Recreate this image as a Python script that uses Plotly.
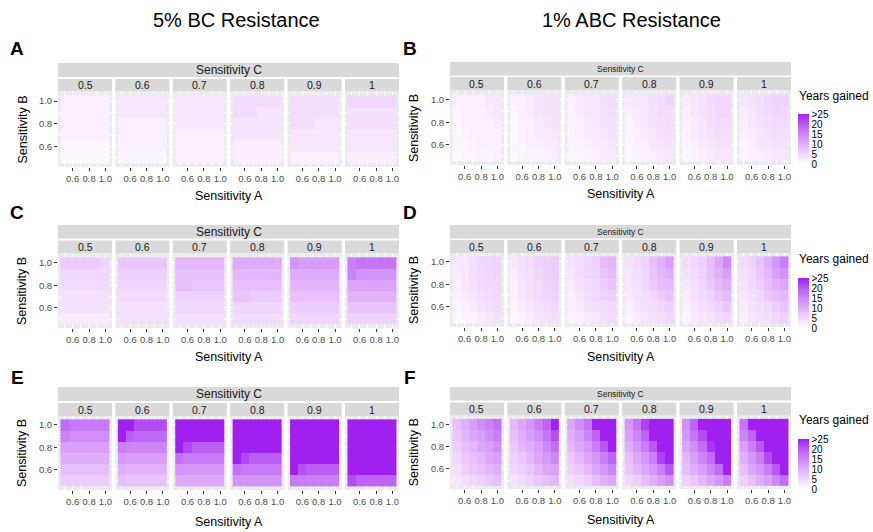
import plotly.graph_objects as go

# ---------------- data ----------------
sens_A = [0.5, 0.6, 0.7, 0.8, 0.9, 1.0]
sens_B = [0.5, 0.6, 0.7, 0.8, 0.9, 1.0]
sens_C_labels = ["0.5", "0.6", "0.7", "0.8", "0.9", "1"]
axis_tickvals = [0.6, 0.8, 1.0]
axis_ticktext = ["0.6", "0.8", "1.0"]
legend_tickvals = [0, 5, 10, 15, 20, 25]
legend_ticktext = ["0", "5", "10", "15", "20", ">25"]
column_titles = ["5% BC Resistance", "1% ABC Resistance"]

# each facet matrix: rows from Sensitivity B = 1.0 (top) down to 0.5 (bottom),
# columns Sensitivity A = 0.5 ... 1.0
panel_A = [
    [[2, 2, 2, 2, 2, 2], [2, 2, 2, 2, 2, 2], [2, 2, 2, 2, 2, 2], [2, 2, 2, 2, 2, 2], [1, 1, 1, 1, 1, 1], [1, 1, 1, 1, 1, 1]],
    [[3, 3, 3, 3, 3, 3], [3, 3, 3, 3, 3, 3], [2, 2, 2, 2, 2, 2], [2, 2, 2, 2, 2, 2], [2, 2, 2, 2, 2, 2], [1.2, 1.2, 1.2, 1.2, 1.2, 1.2]],
    [[3, 3, 3, 3, 3, 3], [3, 3, 3, 3, 3, 3], [3, 3, 3, 3, 3, 3], [2, 2, 2, 2, 2, 2], [2, 2, 2, 2, 2, 2], [2, 2, 2, 2, 2, 2]],
    [[4.2, 4.2, 4.2, 4.2, 4.2, 4.2], [4.2, 4.2, 4.2, 3.2, 3.2, 3.2], [3.2, 3.2, 3.2, 3.2, 3.2, 3.2], [3.2, 3.2, 3.2, 3.2, 3.2, 3.2], [2.2, 2.2, 2.2, 2.2, 2.2, 2.2], [2.2, 2.2, 2.2, 2.2, 2.2, 2.2]],
    [[4, 4, 4, 4, 4, 4], [4, 4, 4, 4, 4, 4], [4, 4, 4, 3, 3, 3], [3, 3, 3, 3, 3, 3], [3, 3, 3, 3, 3, 3], [2, 2, 2, 2, 2, 2]],
    [[5, 5, 5, 5, 5, 5], [4, 4, 4, 4, 4, 4], [4, 4, 4, 4, 4, 4], [3, 3, 3, 3, 3, 3], [3, 3, 3, 3, 3, 3], [2.2, 2.2, 2.2, 2.2, 2.2, 2.2]],
]

panel_B = [
    [[2, 2, 2, 2, 3, 3], [1.5, 2, 2, 2, 2.5, 3], [1, 2, 2, 2, 2, 2.5], [1, 1.5, 2, 2, 2, 2], [1, 1, 1.5, 2, 2, 2], [0.8, 1, 1, 1.5, 1.5, 2]],
    [[2, 2, 2.5, 3, 3.5, 3.5], [1.5, 2, 2.5, 3, 3.5, 3.5], [1, 2, 2, 2.5, 3, 3.5], [1, 1.5, 2, 2.5, 2.5, 3], [1, 1.5, 2, 2, 2.5, 2.5], [0.8, 1, 1.5, 1.5, 2, 2.5]],
    [[2, 2.5, 3, 3, 4, 4.5], [1.5, 2.5, 3, 3, 3.5, 4], [1.5, 2, 2.5, 3, 3.5, 3.5], [1, 2, 2.5, 2.5, 3, 3.5], [1, 1.5, 2, 2.5, 2.5, 3], [1, 1, 1.5, 2, 2.5, 2.5]],
    [[2.5, 3, 3, 4, 4.5, 5.5], [2, 2.5, 3, 3.5, 4.5, 4.5], [1.5, 2.5, 3, 3.5, 4, 4.5], [1.5, 2, 2.5, 3, 3.5, 4], [1, 2, 2, 3, 3, 3.5], [1, 1.5, 2, 2, 2.5, 3]],
    [[2.5, 3, 3.5, 4.5, 5, 5], [2, 3, 3.5, 4, 5, 5], [2, 2.5, 3, 4, 4.5, 4.5], [1.5, 2.5, 3, 3.5, 4, 4], [1.5, 2, 2.5, 3, 3.5, 3.5], [1, 1.5, 2, 2.5, 3, 3]],
    [[3, 3.5, 4, 5, 5.5, 5.5], [2.5, 3, 4, 4.5, 5.5, 5], [2, 3, 3.5, 4, 4.5, 4.5], [2, 2.5, 3, 3.5, 4, 4], [1.5, 2, 3, 3, 3.5, 3.5], [1.5, 2, 2, 2.5, 3, 3]],
]

panel_C = [
    [[6.5, 6.5, 6.5, 6.5, 6.5, 5.5], [5, 5, 5, 5, 5, 5], [4.3, 4.3, 4.3, 4.3, 4.3, 4.3], [3.6, 3.6, 3.6, 3.6, 3.6, 3.6], [3.5, 3.5, 3.5, 3.5, 3.5, 3.5], [2.8, 2.8, 2.8, 2.8, 2.8, 2.8]],
    [[7, 7, 7, 7, 7, 7], [6, 6, 6, 6, 6, 6], [5.2, 5.2, 5.2, 5.2, 5.2, 5.2], [4.4, 4.4, 4.4, 4.4, 4.4, 4.4], [3.8, 3.8, 3.8, 3.8, 3.8, 3.8], [3.5, 3.5, 3.5, 3.5, 3.5, 3.5]],
    [[9, 9, 9, 9, 9, 9], [8, 8, 8, 8, 8, 8], [8, 8, 7, 7, 7, 7], [5.8, 5.8, 5.8, 5.8, 5.8, 5.8], [4.7, 4.7, 4.7, 4.7, 4.7, 4.7], [3.9, 3.9, 3.9, 3.9, 3.9, 3.9]],
    [[10.5, 10.5, 10.5, 10.5, 10.5, 10.5], [9, 9, 9, 9, 9, 9], [8, 8, 8, 8, 8, 8], [7.4, 7.4, 6.4, 6.4, 6.4, 6.4], [5.2, 5.2, 5.2, 5.2, 5.2, 5.2], [4.3, 4.3, 4.3, 4.3, 4.3, 4.3]],
    [[13.5, 12.5, 12.5, 12.5, 12.5, 12.5], [10.5, 10.5, 10.5, 10.5, 10.5, 10.5], [9.2, 9.2, 9.2, 9.2, 9.2, 9.2], [7.8, 7.8, 7.8, 7.8, 7.8, 7.8], [6.3, 6.3, 6.3, 6.3, 6.3, 6.3], [5.2, 5.2, 5.2, 5.2, 5.2, 5.2]],
    [[16, 17, 17, 17, 17, 17], [15.5, 13.5, 13.5, 13.5, 13.5, 13.5], [11.5, 11.5, 11.5, 11.5, 11.5, 11.5], [9.5, 9.5, 9.5, 9.5, 9.5, 9.5], [7.4, 7.4, 7.4, 7.4, 7.4, 7.4], [5.8, 5.8, 5.8, 5.8, 5.8, 5.8]],
]

panel_D = [
    [[3, 3, 4, 5, 5, 5.5], [2.5, 3, 4, 4.5, 5, 5.5], [2, 3, 3.5, 4.5, 5, 5], [2, 2.5, 3, 4, 4.5, 5], [1.5, 2, 2.5, 3.5, 4, 4.5], [1, 1.5, 1.5, 2.5, 3, 3.5]],
    [[3, 3.5, 4.5, 5.5, 6, 6.5], [2.5, 3.5, 4, 5, 6, 6.5], [2, 3, 4, 4.5, 5.5, 6], [2, 3, 3.5, 4.5, 5, 5.5], [1.5, 2.5, 3, 3.5, 4.5, 5], [1, 2, 2.5, 3, 3.5, 4]],
    [[3.5, 4, 5, 6, 8.5, 9], [3, 4, 5, 5.5, 7.5, 8.5], [2.5, 3.5, 4.5, 5, 6.5, 7.5], [2, 3, 4, 4.5, 5.5, 6], [2, 2.5, 3.5, 4, 4.5, 5], [1.5, 2, 2.5, 3, 4, 4.5]],
    [[3.5, 4.5, 5.5, 8, 9.5, 12], [3, 4, 5, 7.5, 9, 10], [3, 3.5, 5, 6.5, 8, 8.5], [2.5, 3.5, 4, 5, 6.5, 7.5], [2, 3, 3.5, 4.5, 5, 6], [1.5, 2.5, 3, 3.5, 4, 5]],
    [[4, 5, 6, 8.5, 11, 14.5], [3.5, 4.5, 5.5, 8, 10, 12], [3, 4, 5, 7, 8.5, 10], [2.5, 3.5, 4.5, 5.5, 7.5, 8.5], [2, 3, 4, 4.5, 5.5, 7], [1.5, 2.5, 3, 3.5, 4.5, 5]],
    [[4.5, 5.5, 7.5, 10, 13, 16], [4, 5, 7, 9, 12, 13.5], [3.5, 4.5, 6, 8, 9.5, 11], [3, 4, 5, 7, 8, 9], [2.5, 3.5, 4, 5, 6.5, 7.5], [2, 3, 3.5, 4, 5, 6]],
]

panel_E = [
    [[18, 16.5, 16.5, 16.5, 16.5, 16.5], [15.5, 14, 14, 14, 14, 14], [12, 12, 12, 12, 12, 12], [10, 10, 10, 10, 10, 10], [8, 8, 8, 8, 8, 8], [6.5, 6.5, 6.5, 6.5, 6.5, 6.5]],
    [[25, 25, 21, 21, 21, 21], [25, 19.5, 18.5, 18.5, 18.5, 18.5], [16, 15, 15, 15, 15, 15], [12.5, 12, 12, 12, 12, 12], [10, 9.5, 9.5, 9.5, 9.5, 9.5], [8, 7.5, 7.5, 7.5, 7.5, 7.5]],
    [[25, 25, 25, 25, 25, 25], [25, 25, 25, 25, 25, 25], [25, 21.5, 19.5, 19.5, 19.5, 19.5], [17.5, 16.5, 16.5, 16.5, 16.5, 16.5], [13.5, 13, 13, 13, 13, 13], [10.5, 10.5, 10.5, 10.5, 10.5, 10.5]],
    [[25, 25, 25, 25, 25, 25], [25, 25, 25, 25, 25, 25], [25, 25, 25, 25, 25, 25], [25, 21.5, 19.5, 19.5, 19.5, 19.5], [17.5, 16.5, 16.5, 16.5, 16.5, 16.5], [13.5, 13.5, 13.5, 13.5, 13.5, 13.5]],
    [[25, 25, 25, 25, 25, 25], [25, 25, 25, 25, 25, 25], [25, 25, 25, 25, 25, 25], [25, 25, 25, 25, 25, 25], [25, 20.5, 19.5, 19.5, 19.5, 19.5], [16.5, 16, 16, 16, 16, 16]],
    [[25, 25, 25, 25, 25, 25], [25, 25, 25, 25, 25, 25], [25, 25, 25, 25, 25, 25], [25, 25, 25, 25, 25, 25], [25, 25, 25, 25, 25, 25], [21, 19, 19, 19, 19, 19]],
]

panel_F = [
    [[8, 10, 12, 14, 15.5, 17.5], [7, 9, 11, 12, 14, 16], [6, 8, 9, 11, 12, 14], [5, 7, 8, 9, 11, 12], [4, 6, 7, 8, 9, 10], [3, 4, 5, 6, 7, 8]],
    [[9, 11, 13, 16, 19, 25], [8, 10, 12, 14, 17, 21], [7, 9, 10, 12, 15, 18], [6, 7, 9, 11, 13, 15], [5, 6, 7, 9, 11, 12], [3.5, 4.5, 5.5, 7, 8, 9]],
    [[11, 14, 17, 25, 25, 25], [10, 12, 15, 19, 25, 25], [9, 11, 13, 16, 20, 25], [7, 9, 11, 13, 16, 19], [6, 7, 9, 11, 13, 15], [4, 5, 6, 8, 10, 11]],
    [[13, 17, 22, 25, 25, 25], [12, 15, 19, 25, 25, 25], [10, 13, 16, 20, 25, 25], [8, 11, 13, 16, 22, 25], [7, 9, 11, 13, 16, 20], [5, 6, 8, 10, 12, 14]],
    [[14, 19, 25, 25, 25, 25], [13, 17, 21, 25, 25, 25], [11, 14, 18, 23, 25, 25], [9, 12, 15, 18, 25, 25], [8, 10, 12, 15, 18, 25], [6, 7, 9, 11, 13, 16]],
    [[17, 25, 25, 25, 25, 25], [15, 19, 25, 25, 25, 25], [12, 16, 20, 25, 25, 25], [10, 13, 16, 21, 25, 25], [8, 11, 13, 16, 20, 25], [6, 8, 10, 12, 15, 18]],
]

# ---------------- layout geometry (pixels) ----------------
W, H = 873, 532
FONT = "Liberation Sans, Arial, Helvetica, sans-serif"
colorscale = [[0.0, "#FFFFFF"], [0.25, "#EDCDFD"], [0.5, "#D79BFA"], [0.75, "#BE66F5"], [1.0, "#A020F0"]]

panels = [
    dict(letter="A", data=panel_A, x0=58, main=(63, 77), sub=(79, 91.5), bg=(92, 167), lx=17, ly=48, xl=196, strip_fs=12, legend=False),
    dict(letter="B", data=panel_B, x0=450, main=(62, 75.5), sub=(77, 90.5), bg=(91, 165), lx=410, ly=48, xl=194, strip_fs=8.5, legend=True, ly_leg=96, bar=(114, 164)),
    dict(letter="C", data=panel_C, x0=58, main=(225, 238.5), sub=(240.5, 253.5), bg=(254, 328), lx=17, ly=212, xl=357, strip_fs=12, legend=False),
    dict(letter="D", data=panel_D, x0=450, main=(225, 238.5), sub=(240, 253), bg=(253, 327), lx=410, ly=212, xl=357, strip_fs=8.5, legend=True, ly_leg=259, bar=(278, 328)),
    dict(letter="E", data=panel_E, x0=58, main=(387, 401), sub=(403, 416), bg=(416, 490), lx=17, ly=377, xl=522, strip_fs=12, legend=False),
    dict(letter="F", data=panel_F, x0=450, main=(387, 400.5), sub=(402.5, 415.5), bg=(415.5, 489), lx=410, ly=377, xl=520, strip_fs=8.5, legend=True, ly_leg=420, bar=(439, 489)),
]
FACET_W = 54.0
FACET_STEP = 57.4
TICK_FS = 9.5
STRIP_VAL_FS = 10.5


def px(x):
    return x / W


def py(y):
    return 1 - y / H


fig = go.Figure()
shapes = []
annotations = []
layout_axes = {}
n = 0

for p in panels:
    for i, mat in enumerate(p["data"]):
        n += 1
        xa = "x" if n == 1 else f"x{n}"
        ya = "y" if n == 1 else f"y{n}"
        xkey = "xaxis" if n == 1 else f"xaxis{n}"
        ykey = "yaxis" if n == 1 else f"yaxis{n}"
        fx0 = p["x0"] + i * FACET_STEP
        fx1 = fx0 + FACET_W
        show_bar = p["legend"] and i == 5
        trace = go.Heatmap(
            x=sens_A, y=sens_B, z=mat[::-1],
            zmin=0, zmax=25, colorscale=colorscale,
            showscale=show_bar, xaxis=xa, yaxis=ya,
            hovertemplate="A=%{x}<br>B=%{y}<br>years=%{z}<extra></extra>",
        )
        if show_bar:
            b0, b1 = p["bar"]
            trace.colorbar = dict(
                x=px(798), xanchor="left", y=py(b1), yanchor="bottom",
                len=b1 - b0, lenmode="pixels", thickness=11, thicknessmode="pixels",
                outlinewidth=0, ticks="", tickvals=legend_tickvals, ticktext=legend_ticktext,
                tickfont=dict(family=FONT, size=10, color="#000000"),
                xpad=0, ypad=0,
            )
        fig.add_trace(trace)
        layout_axes[xkey] = dict(
            domain=[px(fx0), px(fx1)], anchor=ya, range=[0.42, 1.08],
            tickvals=axis_tickvals, ticktext=axis_ticktext, ticks="outside", ticklen=3,
            tickwidth=1, tickcolor="#333333", tickfont=dict(family=FONT, size=TICK_FS, color="#4D4D4D"),
            showgrid=True, gridcolor="#FFFFFF", gridwidth=1, zeroline=False, showline=False,
            minor=dict(tickvals=[0.5, 0.7, 0.9], showgrid=True, gridcolor="#FFFFFF", gridwidth=0.5, ticks=""),
            fixedrange=True,
        )
        layout_axes[ykey] = dict(
            domain=[py(p["bg"][1]), py(p["bg"][0])], anchor=xa, range=[0.42, 1.08],
            tickvals=axis_tickvals, ticktext=axis_ticktext,
            ticks="outside" if i == 0 else "", ticklen=3, tickwidth=1, tickcolor="#333333",
            showticklabels=(i == 0), tickfont=dict(family=FONT, size=TICK_FS, color="#4D4D4D"),
            showgrid=True, gridcolor="#FFFFFF", gridwidth=1, zeroline=False, showline=False,
            minor=dict(tickvals=[0.5, 0.7, 0.9], showgrid=True, gridcolor="#FFFFFF", gridwidth=0.5, ticks=""),
            fixedrange=True,
        )
        # facet strip (Sensitivity C value)
        s0, s1 = p["sub"]
        shapes.append(dict(type="rect", xref="paper", yref="paper", x0=px(fx0), x1=px(fx1),
                           y0=py(s1), y1=py(s0), fillcolor="#D9D9D9", line=dict(width=0), layer="below"))
        annotations.append(dict(text=sens_C_labels[i], xref="paper", yref="paper",
                                x=px((fx0 + fx1) / 2), y=py((s0 + s1) / 2), showarrow=False,
                                xanchor="center", yanchor="middle",
                                font=dict(family=FONT, size=STRIP_VAL_FS, color="#1A1A1A")))
    # overall strip
    m0, m1 = p["main"]
    left = p["x0"]
    right = p["x0"] + 5 * FACET_STEP + FACET_W
    shapes.append(dict(type="rect", xref="paper", yref="paper", x0=px(left), x1=px(right),
                       y0=py(m1), y1=py(m0), fillcolor="#D9D9D9", line=dict(width=0), layer="below"))
    annotations.append(dict(text="Sensitivity C", xref="paper", yref="paper",
                            x=px((left + right) / 2), y=py((m0 + m1) / 2), showarrow=False,
                            xanchor="center", yanchor="middle",
                            font=dict(family=FONT, size=p["strip_fs"], color="#1A1A1A")))
    # panel letter
    annotations.append(dict(text="<b>" + p["letter"] + "</b>", xref="paper", yref="paper",
                            x=px(p["lx"]), y=py(p["ly"]), showarrow=False,
                            xanchor="center", yanchor="middle",
                            font=dict(family=FONT, size=19, color="#000000")))
    # axis titles
    annotations.append(dict(text="Sensitivity A", xref="paper", yref="paper",
                            x=px((left + right) / 2), y=py(p["xl"]), showarrow=False,
                            xanchor="center", yanchor="middle",
                            font=dict(family=FONT, size=12.5, color="#000000")))
    b0, b1 = p["bg"]
    annotations.append(dict(text="Sensitivity B", xref="paper", yref="paper",
                            x=px(p["x0"] - 36), y=py((b0 + b1) / 2), showarrow=False, textangle=-90,
                            xanchor="center", yanchor="middle",
                            font=dict(family=FONT, size=12.5, color="#000000")))
    if p["legend"]:
        annotations.append(dict(text="Years gained", xref="paper", yref="paper",
                                x=px(797), y=py(p["ly_leg"]), showarrow=False,
                                xanchor="left", yanchor="middle",
                                font=dict(family=FONT, size=12, color="#000000")))

# column titles
annotations.append(dict(text=column_titles[0], xref="paper", yref="paper", x=px(237), y=py(20),
                        showarrow=False, xanchor="center", yanchor="middle",
                        font=dict(family=FONT, size=20, color="#000000")))
annotations.append(dict(text=column_titles[1], xref="paper", yref="paper", x=px(631), y=py(20),
                        showarrow=False, xanchor="center", yanchor="middle",
                        font=dict(family=FONT, size=20, color="#000000")))

fig.update_layout(
    width=W, height=H, autosize=False,
    margin=dict(l=0, r=0, t=0, b=0),
    paper_bgcolor="#FFFFFF", plot_bgcolor="#EBEBEB",
    showlegend=False, shapes=shapes, annotations=annotations,
    font=dict(family=FONT),
    **layout_axes,
)

fig.write_html("out.html", config={"displayModeBar": False},
               post_script="document.body.style.margin='0';document.body.style.overflow='hidden';")
